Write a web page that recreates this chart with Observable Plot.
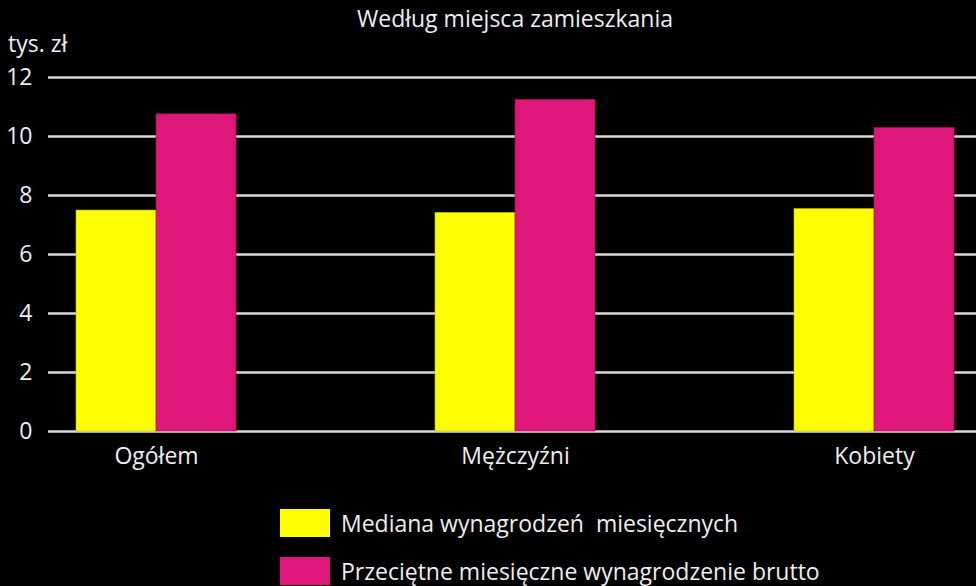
<!DOCTYPE html>
<html>
<head>
<meta charset="utf-8">
<script src="https://cdn.jsdelivr.net/npm/d3@7"></script>
<script src="https://cdn.jsdelivr.net/npm/@observablehq/plot@0.6"></script>
<style>
  html, body { margin: 0; padding: 0; background: #000; }
  #wrap { position: relative; width: 976px; height: 586px; background: #000; overflow: hidden; font-family: "Open Sans", "Noto Sans", sans-serif; color: #eee; }
  #title { position: absolute; top: 2px; left: 0; width: 1030px; text-align: center; font-size: 23px; }
  #unit { position: absolute; top: 27px; left: 8px; font-size: 23px; }
  #chart { position: absolute; top: 0; left: 0; }
  .leg { position: absolute; left: 280px; font-size: 23px; display: flex; align-items: center; white-space: pre; }
  .sw { width: 50px; height: 28px; margin-right: 11px; }
</style>
</head>
<body>
<div id="wrap">
  <div id="chart"></div>
  <div id="title">Według miejsca zamieszkania</div>
  <div id="unit">tys. zł</div>
  <div id="legend"></div>
</div>
<script>
const categories = ["Ogółem", "Mężczyźni", "Kobiety"];
const seriesNames = ["Mediana wynagrodzeń  miesięcznych", "Przeciętne miesięczne wynagrodzenie brutto"];
const medianValues = [7.49, 7.41, 7.54];
const averageValues = [10.75, 11.24, 10.29];
const yTicks = [0, 2, 4, 6, 8, 10, 12];
const colors = ["#ffff00", "#e0177a"];

const medianData = categories.map((c, i) => ({cat: c, value: medianValues[i]}));
const averageData = categories.map((c, i) => ({cat: c, value: averageValues[i]}));

const chart = Plot.plot({
  width: 976,
  height: 480,
  marginTop: 77,
  marginBottom: 49,
  marginLeft: 48,
  marginRight: 0,
  style: {background: "#000", color: "#eee", fontSize: "23px", fontFamily: "'Open Sans', 'Noto Sans', sans-serif"},
  x: {type: "band", domain: categories, range: [-123, 1153], paddingInner: 0.5543, paddingOuter: 0.5543, label: null},
  y: {domain: [0, 12], label: null},
  marks: [
    Plot.ruleY(yTicks, {stroke: "#d9d9d9", strokeWidth: 2.5}),
    Plot.barY(medianData, {x: "cat", y: "value", fill: colors[0], stroke: "#b8b800", strokeWidth: 0.6, insetRight: 80}),
    Plot.barY(averageData, {x: "cat", y: "value", fill: colors[1], stroke: "#a8105a", strokeWidth: 0.6, insetLeft: 80}),
    Plot.axisY({ticks: yTicks, tickSize: 0, tickPadding: 16, label: null, fill: "#eee"}),
    Plot.axisX({tickSize: 0, tickPadding: 16, label: null, fill: "#eee"})
  ]
});
document.getElementById("chart").appendChild(chart);

const legend = document.getElementById("legend");
seriesNames.forEach((name, i) => {
  const row = document.createElement("div");
  row.className = "leg";
  row.style.top = (507 + i * 48) + "px";
  const sw = document.createElement("div");
  sw.className = "sw";
  sw.style.background = colors[i];
  row.appendChild(sw);
  const t = document.createElement("span");
  t.textContent = name;
  row.appendChild(t);
  legend.appendChild(row);
});
</script>
</body>
</html>
